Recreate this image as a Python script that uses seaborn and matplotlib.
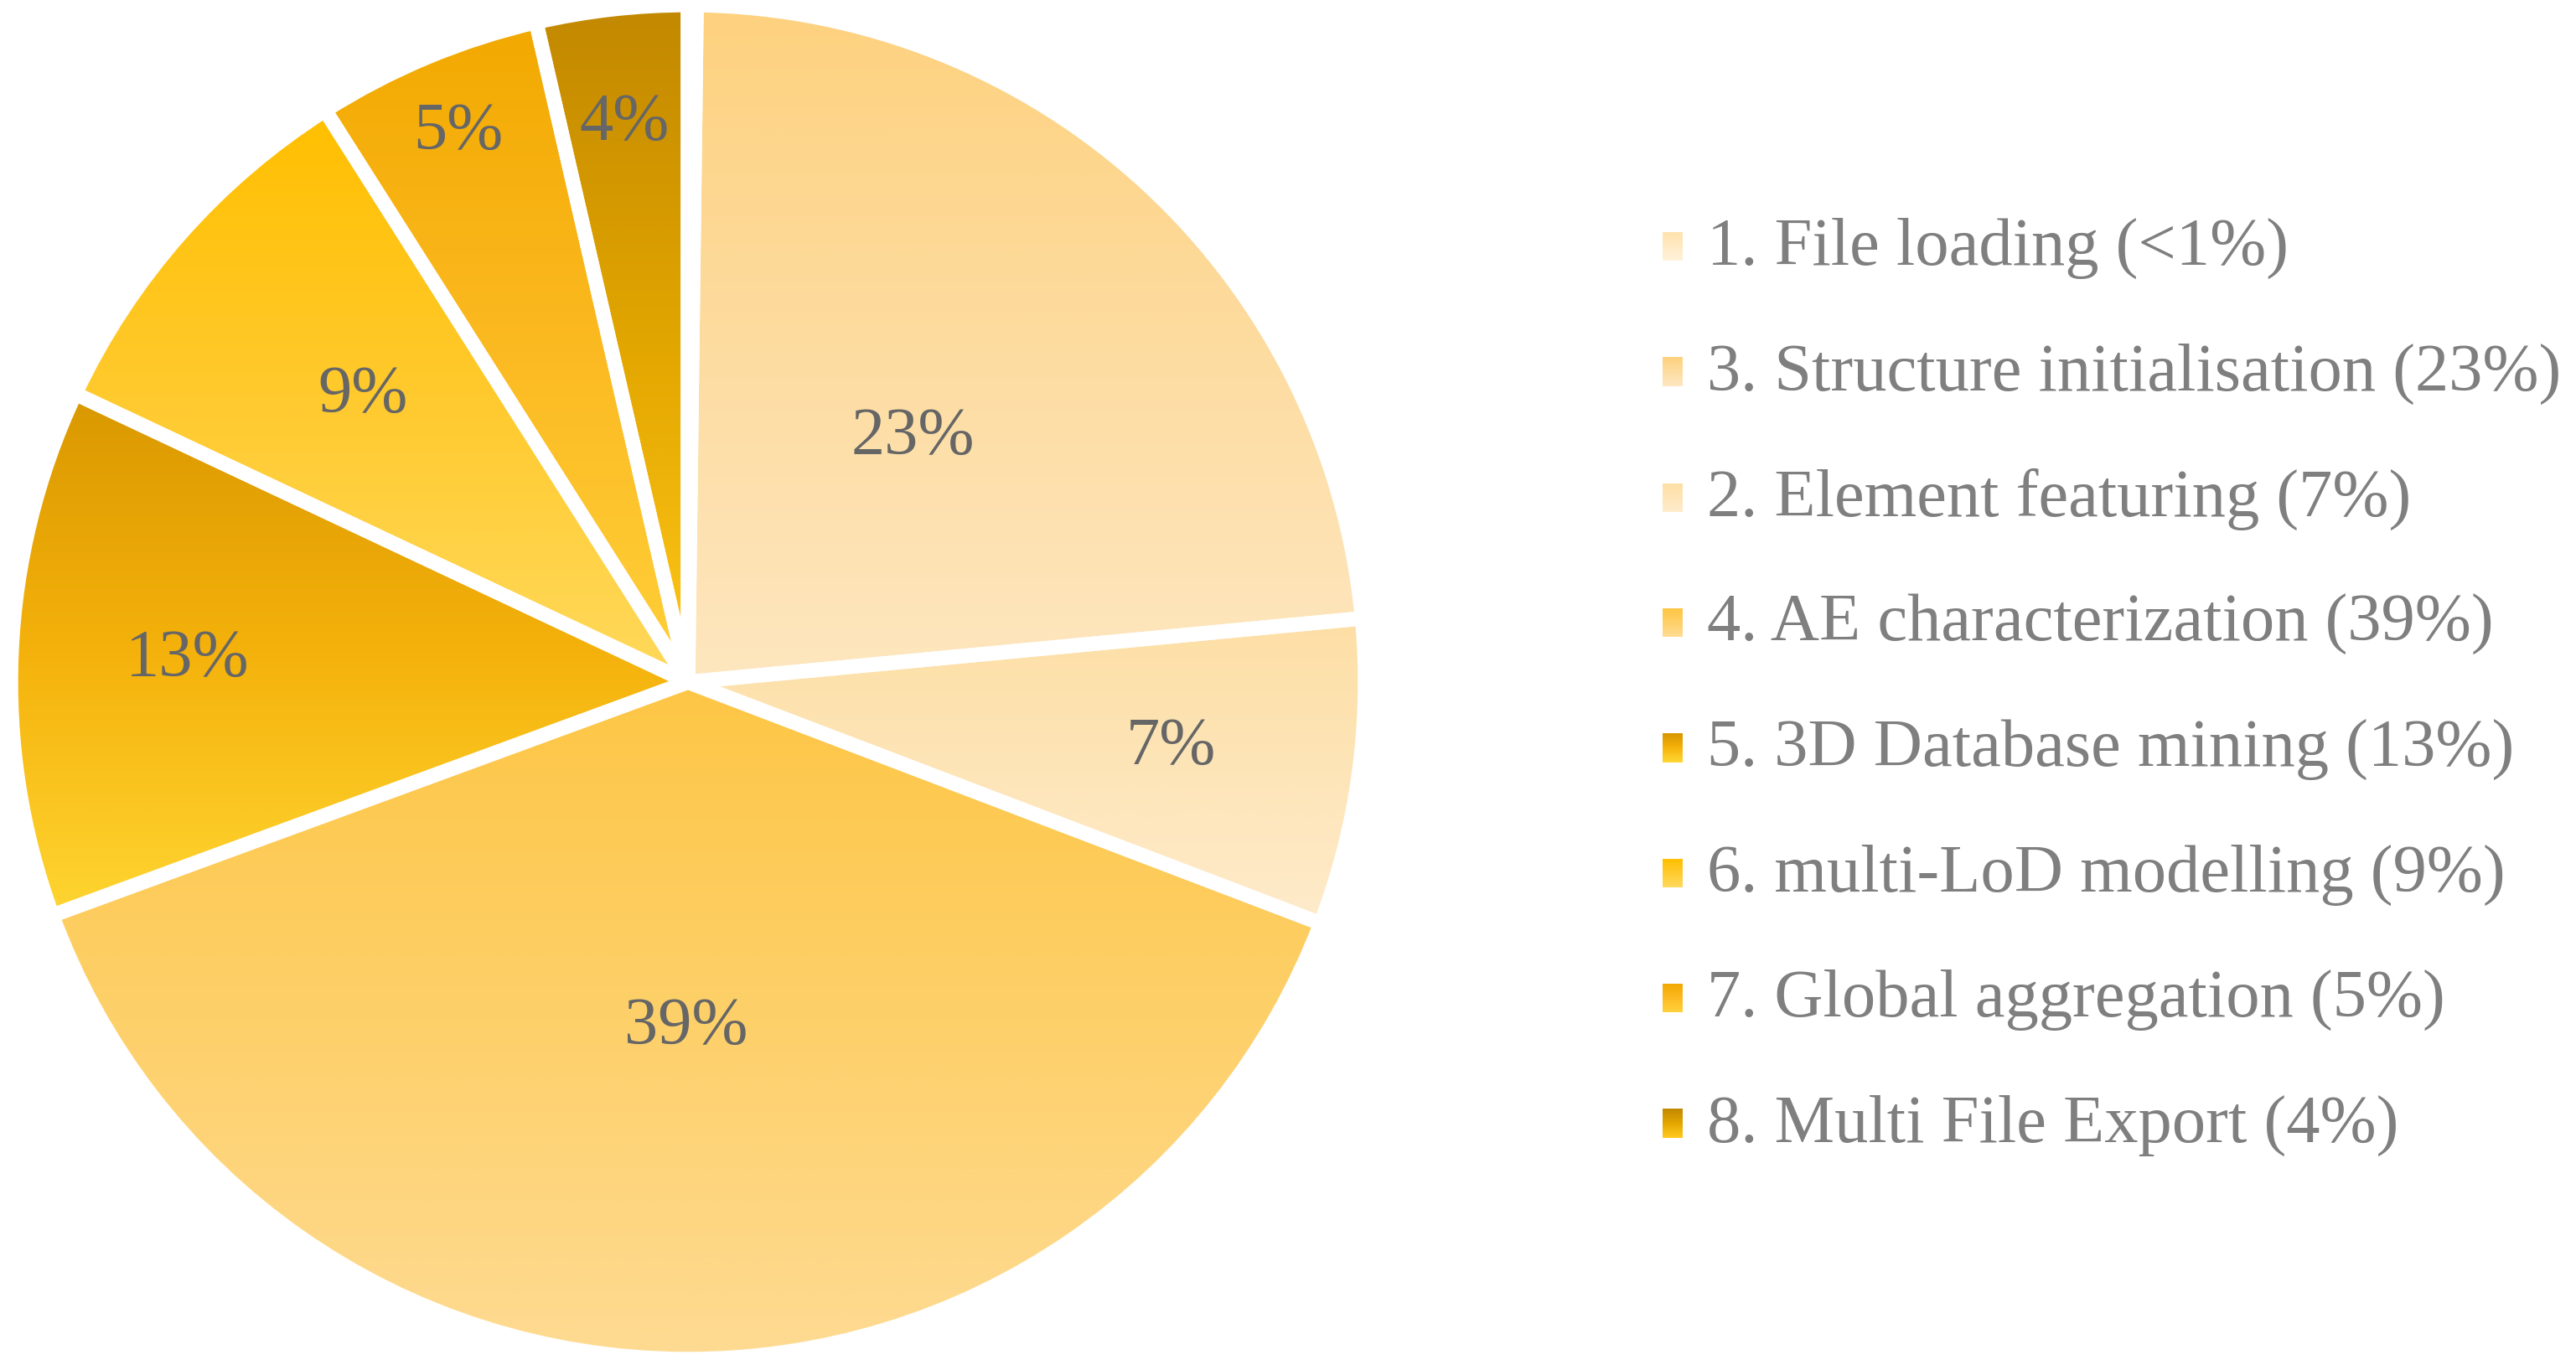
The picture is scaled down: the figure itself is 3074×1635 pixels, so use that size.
import numpy as np
import matplotlib
matplotlib.use("Agg")
import matplotlib.pyplot as plt
import seaborn as sns
from matplotlib.colors import LinearSegmentedColormap
from matplotlib.legend_handler import HandlerBase
from matplotlib.patches import Rectangle

# ---------------- data ----------------
categories = [
    "1. File loading (<1%)",
    "3. Structure initialisation (23%)",
    "2. Element featuring (7%)",
    "4. AE characterization (39%)",
    "5. 3D Database mining (13%)",
    "6. multi-LoD modelling (9%)",
    "7. Global aggregation (5%)",
    "8. Multi File Export (4%)",
]
values = [0.2, 23.3, 7.3, 38.6, 12.6, 9.0, 5.4, 3.6]
pct_labels = ["", "23%", "7%", "39%", "13%", "9%", "5%", "4%"]

# gradient colours (top, middle, bottom) per slice
grad_top = ["#FFE2AE", "#FDD17E", "#FDDFA5", "#FDC645", "#D99800", "#FFBF00", "#F2A900", "#C28800"]
grad_mid = ["#FFEAC4", "#FDDCA0", "#FEE5B8", "#FED06A", "#F5B20C", "#FFCA2E", "#FCBA22", "#E2A600"]
grad_bot = ["#FFF1DA", "#FEE6BF", "#FEEBCB", "#FEDB93", "#FFD531", "#FFD95C", "#FFD03A", "#FFC71A"]

label_dist = [0.0, 0.49, 0.72, 0.51, 0.74, 0.64, 0.88, 0.83]

# ---------------- style ----------------
sns.set_theme(style="white")
plt.rcParams["font.family"] = ["Liberation Serif", "DejaVu Serif"]

W, H = 3074, 1635
fig = plt.figure(figsize=(W / 100, H / 100), dpi=100)
fig.patch.set_facecolor("white")

cx, cy, R = 821, 814, 808
ax = fig.add_axes([(cx - R) / W, (H - cy - R) / H, 2 * R / W, 2 * R / H])
ax.set_axis_off()

cmaps = [LinearSegmentedColormap.from_list(f"g{i}", [t, m, b])
         for i, (t, m, b) in enumerate(zip(grad_top, grad_mid, grad_bot))]

wedges, _ = ax.pie(
    values, startangle=90, counterclock=False, radius=1,
    wedgeprops=dict(facecolor="none", edgecolor="white", linewidth=12.5,
                    joinstyle="round"),
)

grad = np.linspace(0, 1, 512).reshape(-1, 1)
for w, cm in zip(wedges, cmaps):
    w.set_zorder(3)
    angs = np.deg2rad(np.linspace(w.theta1, w.theta2, 200))
    xs = np.concatenate([[w.center[0]], w.center[0] + w.r * np.cos(angs)])
    ys = np.concatenate([[w.center[1]], w.center[1] + w.r * np.sin(angs)])
    im = ax.imshow(grad, cmap=cm, extent=[xs.min(), xs.max(), ys.min(), ys.max()],
                   origin="upper", aspect="auto", zorder=1, interpolation="bilinear")
    im.set_clip_path(w)

for w, txt, d in zip(wedges, pct_labels, label_dist):
    if not txt:
        continue
    a = np.deg2rad((w.theta1 + w.theta2) / 2)
    ax.text(d * np.cos(a), d * np.sin(a), txt, ha="center", va="center",
            fontsize=58, color="#666666", zorder=5)

ax.set_xlim(-1, 1)
ax.set_ylim(-1, 1)
ax.set_aspect("equal")


# ---------------- legend with gradient markers ----------------
class GradHandle:
    def __init__(self, cmap):
        self.cmap = cmap


class GradientHandler(HandlerBase):
    def create_artists(self, legend, orig_handle, xdescent, ydescent,
                       width, height, fontsize, trans):
        n = 24
        mw, mh, y0 = 17.5, 24.5, 3.6   # marker size in points, bottom offset above baseline
        arts = []
        step = mh / n
        for i in range(n):
            yb = y0 + mh - (i + 1) * step
            arts.append(Rectangle((0, yb), mw, step * 1.08,
                                  facecolor=orig_handle.cmap(i / (n - 1)),
                                  edgecolor="none", transform=trans))
        return arts


handles = [GradHandle(cm) for cm in cmaps]
leg = ax.legend(
    handles, categories, handler_map={GradHandle: GradientHandler()},
    loc="center left", bbox_to_anchor=(1984 / W, 1 - 820 / H),
    bbox_transform=fig.transFigure, frameon=False, fontsize=58,
    labelcolor="#7F7F7F", handlelength=0.30, handleheight=0.42,
    handletextpad=0.36, labelspacing=0.945, borderpad=0, borderaxespad=0,
)

fig.savefig("out.png", dpi=100, facecolor="white")
